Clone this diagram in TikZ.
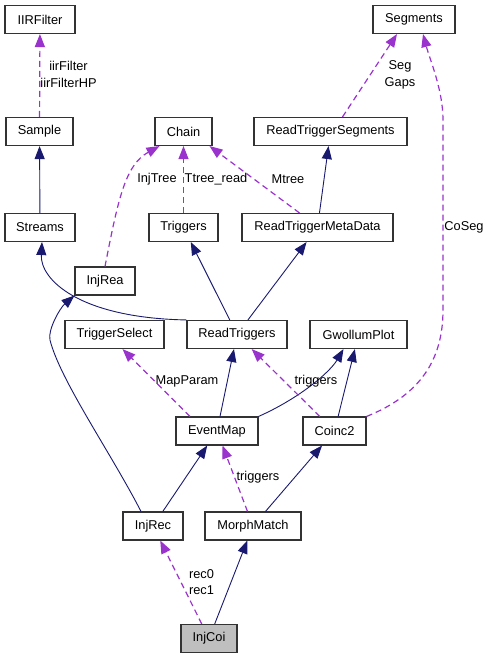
\documentclass[tikz,border=0pt]{standalone}
\usepackage{fontspec}
\setmainfont{Liberation Sans}
\usetikzlibrary{arrows.meta}
\definecolor{navy}{RGB}{25,25,112}
\definecolor{orchid}{RGB}{154,50,205}

\begin{document}
\begin{tikzpicture}[x=1pt, y=-1pt,
  cls/.style={draw=black!80, line width=1.1pt, fill=white, minimum height=28pt,
    inner sep=0pt, font=\fontsize{12.8}{16.5}\selectfont},
  lbl/.style={align=center, inner sep=0pt, font=\fontsize{12.8}{16.5}\selectfont},
  inh/.style={draw=navy, line width=0.9pt, -{Triangle[length=13pt,width=10pt]}},
  usage/.style={draw=orchid, line width=1.2pt, dash pattern=on 6pt off 4pt,
    -{Triangle[length=13pt,width=10pt]}}]
  \useasboundingbox (0,0) rectangle (491,659);

  % classes
  \node[cls, minimum width=70pt] (iirfilter) at (40,19.5) {IIRFilter};
  \node[cls, minimum width=82pt] (segments) at (414,19.5) {Segments};
  \node[cls, minimum width=67pt] (sample) at (39.5,131.5) {Sample};
  \node[cls, minimum width=57pt] (chain) at (183.5,131.5) {Chain};
  \node[cls, minimum width=153pt] (rts) at (330.5,131.5) {ReadTriggerSegments};
  \node[cls, minimum width=70pt] (streams) at (40,227.5) {Streams};
  \node[cls, minimum width=69pt] (triggers) at (183.5,227.5) {Triggers};
  \node[cls, minimum width=151pt] (rtmd) at (317.5,227.5) {ReadTriggerMetaData};
  \node[cls, minimum width=60pt] (injrea) at (105,281) {InjRea};
  \node[cls, minimum width=99pt] (trigsel) at (114.5,334.5) {TriggerSelect};
  \node[cls, minimum width=100pt] (readtrig) at (237,334.5) {ReadTriggers};
  \node[cls, minimum width=97pt] (gwollum) at (358.5,334.5) {GwollumPlot};
  \node[cls, minimum width=82pt] (eventmap) at (217,431) {EventMap};
  \node[cls, minimum width=63pt] (coinc2) at (334.5,431) {Coinc2};
  \node[cls, minimum width=60pt] (injrec) at (153,526) {InjRec};
  \node[cls, minimum width=96pt] (morph) at (253,526) {MorphMatch};
  \node[cls, minimum width=56pt, fill=black!25] (injcoi) at (209,638.5) {InjCoi};

  % relations
  \draw[usage] (sample) -- (iirfilter);
  \draw[inh] (streams) -- (sample);
  \draw[usage] (injrea.north) .. controls (118,200) and (125,165) .. ([xshift=-24pt]chain.south);
  \draw[usage] (triggers) -- (chain);
  \draw[usage] ([xshift=-18pt]rtmd.north) -- ([xshift=26pt]chain.south);
  \draw[usage] ([xshift=12pt]rts.north) -- ([xshift=-17pt]segments.south);
  \draw[inh] (rtmd) -- (rts);
  \draw[inh] (readtrig.north west) .. controls (80,318) and (40,280) .. ([xshift=2pt]streams.south);
  \draw[inh] (readtrig) -- (triggers);
  \draw[inh] (readtrig) -- (rtmd);
  \draw[inh] ([xshift=-12pt]injrec.north) .. controls (111,453) and (60,380) .. (50,340)
    .. controls (47.5,330) and (60,308) .. (injrea.south west);
  \draw[usage] ([xshift=-27pt]eventmap.north) -- ([xshift=8pt]trigsel.south);
  \draw[inh] (eventmap) -- (readtrig);
  \draw[inh] (eventmap.north east) .. controls (300,398) and (330,372) .. ([xshift=-15pt]gwollum.south);
  \draw[usage] (coinc2) -- (readtrig);
  \draw[inh] (coinc2) -- (gwollum);
  \draw[usage] (coinc2.north east) .. controls (420,395) and (443,360) .. (443,310) -- (443,120)
    .. controls (443,90) and (430,60) .. ([xshift=9pt]segments.south);
  \draw[inh] (injrec) -- (eventmap);
  \draw[usage] (morph) -- (eventmap);
  \draw[inh] (morph) -- (coinc2);
  \draw[usage] (injcoi) -- (injrec);
  \draw[inh] (injcoi) -- (morph);

  % labels
  \node[lbl] (l-iir) at (68.5,74.5) {iirFilter\\iirFilterHP};
  \node[lbl] (l-injtree) at (157,179) {InjTree};
  \node[lbl] (l-ttree) at (216,179) {Ttree\_read};
  \node[lbl] (l-mtree) at (288,179) {Mtree};
  \node[lbl] (l-seg) at (400,75) {Seg\\Gaps};
  \node[lbl] (l-coseg) at (464,227) {CoSeg};
  \node[lbl] (l-mapparam) at (187,381) {MapParam};
  \node[lbl] (l-trig1) at (316,381) {triggers};
  \node[lbl] (l-trig2) at (258,477) {triggers};
  \node[lbl] (l-rec) at (201.5,582) {rec0\\rec1};
\end{tikzpicture}
\end{document}
